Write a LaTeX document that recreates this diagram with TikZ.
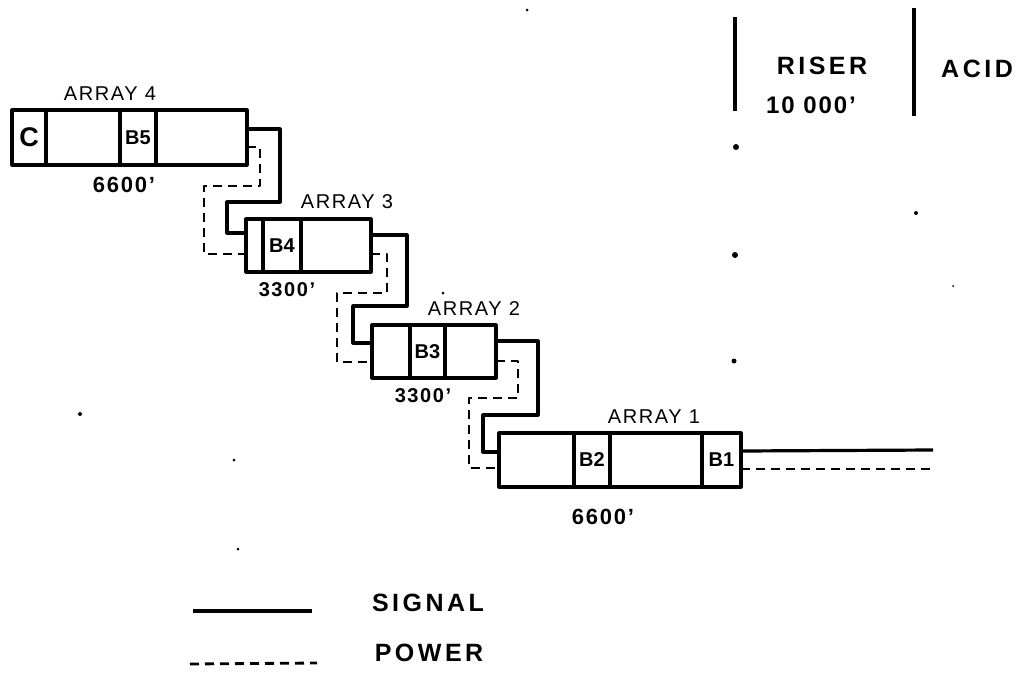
\documentclass[tikz,border=0pt]{standalone}
\usepackage{fontspec}
\setmainfont{Liberation Sans}[LetterSpace=8]
\newfontfamily\widehand[LetterSpace=14]{Liberation Sans}
\newfontfamily\tighthand{Liberation Sans}
\usepackage{tikz}
\usetikzlibrary{positioning}

\begin{document}
\begin{tikzpicture}[
  x=1pt, y=-1pt, node distance=0pt, line join=round,
  font=\fontsize{20}{24}\selectfont,
  cell/.style={draw, line width=3.2pt, inner sep=0pt, outer sep=0pt, minimum height=#1,
    font=\fontsize{20}{24}\selectfont\tighthand\bfseries},
  cell/.default=54pt,
  sig/.style={line width=3.2pt},
  pow/.style={line width=2.8pt, dash pattern=on 9pt off 6pt},
  tag/.style={inner sep=0pt},
  len/.style={tag, font=\fontsize{22}{26}\selectfont\bfseries},
  big/.style={tag, font=\fontsize{25}{28}\selectfont\widehand\bfseries},
  speck/.style={circle, fill=black, inner sep=0pt, minimum size=#1},
  speck/.default=3pt]
\useasboundingbox (0,0) rectangle (1029,673);
% array 4
\node[cell=55pt, minimum width=34pt, anchor=west, font=\fontsize{27}{30}\selectfont\bfseries] (c4) at (12,137.5) {C};
\node[cell=55pt, minimum width=74pt, right=of c4] (a4) {};
\node[cell=55pt, minimum width=36pt, right=of a4] (b5) {B5};
\node[cell=55pt, minimum width=91pt, right=of b5] (d4) {};
% array 3
\node[cell=53pt, minimum width=17pt, anchor=west] (a3) at (246,245.5) {};
\node[cell=53pt, minimum width=38pt, right=of a3] (b4) {B4};
\node[cell=53pt, minimum width=70pt, right=of b4] (d3) {};
% array 2
\node[cell=53pt, minimum width=38pt, anchor=west] (a2) at (372,351.5) {};
\node[cell=53pt, minimum width=35pt, right=of a2] (b3) {B3};
\node[cell=53pt, minimum width=51pt, right=of b3] (d2) {};
% array 1
\node[cell, minimum width=75pt, anchor=west] (a1) at (499,460) {};
\node[cell, minimum width=36pt, right=of a1] (b2) {B2};
\node[cell, minimum width=92pt, right=of b2] (d1) {};
\node[cell, minimum width=39pt, right=of d1] (b1) {B1};
% labels
\node[tag] (n4) at (110,94) {ARRAY 4};
\node[len] (l4) at (124,185) {6600'};
\node[tag] (n3) at (347,202) {ARRAY 3};
\node[len, font=\fontsize{20}{24}\selectfont\bfseries] (l3) at (287,290) {3300'};
\node[tag] (n2) at (474,309) {ARRAY 2};
\node[len, font=\fontsize{20}{24}\selectfont\bfseries] (l2) at (423,396) {3300'};
\node[tag] (n1) at (654,417) {ARRAY 1};
\node[len] (l1) at (603,517) {6600'};
% signal
\draw[sig] ([yshift=8.5pt]d4.east) -- ++(33,0) -- ++(0,73) -- ++(-53,0) -- ++(0,31) -- ([yshift=12.5pt]a3.west);
\draw[sig] ([yshift=10.5pt]d3.east) -- ++(36,0) -- ++(0,71) -- ++(-54,0) -- ++(0,37) -- ([yshift=8.5pt]a2.west);
\draw[sig] ([yshift=10.5pt]d2.east) -- ++(42,0) -- ++(0,74) -- ++(-55,0) -- ++(0,37) -- ([yshift=8pt]a1.west);
% power
\draw[pow] ([yshift=-9.5pt]d4.east) -- ++(13,0) -- ++(0,39) -- ++(-56,0) -- ++(0,68) -- ([yshift=-8.5pt]a3.west);
\draw[pow] ([yshift=-8.5pt]d3.east) -- ++(16,0) -- ++(0,39) -- ++(-50,0) -- ++(0,69) -- ([yshift=-10.5pt]a2.west);
\draw[pow] ([yshift=-9.5pt]d2.east) -- ++(22,0) -- ++(0,37) -- ++(-49,0) -- ++(0,70) -- ([yshift=-8pt]a1.west);
% way out
\coordinate (sigout) at (933,450);
\coordinate (powout) at (930,469);
\draw[sig] ([yshift=9pt]b1.east) -- (sigout);
\draw[pow] ([yshift=-9pt]b1.east) -- (powout);
% riser and acid
\coordinate (r1) at (735,17);
\coordinate (r2) at (735,111);
\coordinate (r3) at (914,8);
\coordinate (r4) at (914,116);
\draw[line width=3.6pt] (r1) -- (r2);
\draw[line width=3.6pt] (r3) -- (r4);
\node[big] (riser) at (822,66) {RISER};
\node[len, font=\fontsize{24}{28}\selectfont\bfseries] (rlen) at (811,105) {10 000'};
\node[big] (acid) at (977,69) {ACID};
% legend
\coordinate (k1) at (193,611);
\coordinate (k2) at (312,611);
\coordinate (k3) at (190,664);
\coordinate (k4) at (317,663);
\draw[sig] (k1) -- (k2);
\draw[pow] (k3) -- (k4);
\node[big] (ksig) at (428,603) {SIGNAL};
\node[big] (kpow) at (429,653) {POWER};
% specks
\foreach \x/\y/\s [count=\i] in {736/147/6pt, 735/255/6pt, 734/361/5pt, 916/213/4pt, 953/286/2pt, 80/414/4pt, 234/460/3pt, 238/549/3pt, 527/10/3pt, 443/293/3pt}
  \node[speck=\s] (dot\i) at (\x,\y) {};
\end{tikzpicture}
\end{document}
